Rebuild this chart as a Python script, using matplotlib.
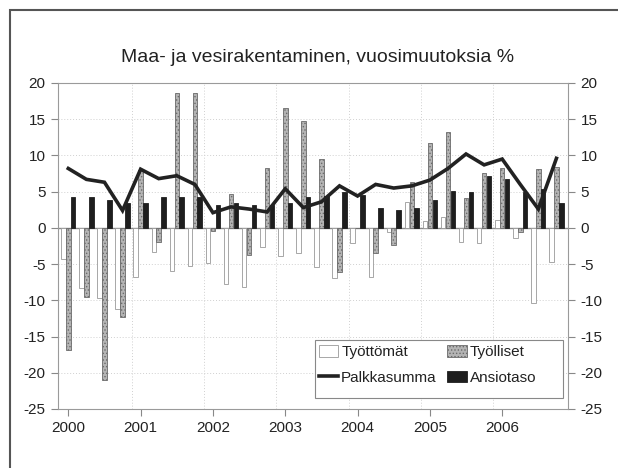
import matplotlib
matplotlib.use('Agg')
import matplotlib.pyplot as plt
from matplotlib.patches import Rectangle
from matplotlib.lines import Line2D
import numpy as np

plt.rcParams['font.family'] = ['Liberation Sans', 'DejaVu Sans']
plt.rcParams['axes.unicode_minus'] = False
plt.rcParams['hatch.linewidth'] = 0.6

# quarterly data 2000Q1 .. 2006Q4
years = [2000, 2001, 2002, 2003, 2004, 2005, 2006]
tyottomat = [-4.3, -8.3, -9.7, -11.2, -6.8, -3.3, -5.9, -5.2, -4.9, -7.8, -8.2, -2.7,
             -3.9, -3.5, -5.4, -6.9, -2.1, -6.8, -0.6, 3.6, 1.0, 1.5, -1.9, -2.1,
             1.1, -1.4, -10.4, -4.7]
tyolliset = [-16.8, -9.5, -21.0, -12.3, 8.0, -2.0, 18.6, 18.6, -0.4, 4.7, -3.7, 8.3,
             16.5, 14.7, 9.5, -6.1, 0.0, -3.4, -2.4, 6.3, 11.7, 13.2, 4.1, 7.6,
             8.3, -0.5, 8.1, 8.4]
ansiotaso = [4.25, 4.25, 3.8, 3.4, 3.5, 4.3, 4.2, 4.2, 3.2, 3.4, 3.2, 3.2,
             3.5, 4.3, 4.4, 4.9, 4.6, 2.8, 2.5, 2.8, 3.8, 5.1, 4.9, 7.1,
             6.7, 5.0, 5.3, 3.5]
palkkasumma = [8.2, 6.7, 6.3, 2.4, 8.1, 6.8, 7.2, 6.0, 2.1, 2.9, 2.6, 2.2,
               5.4, 2.8, 3.6, 5.8, 4.4, 6.0, 5.5, 5.8, 6.6, 8.2, 10.2, 8.7,
               9.5, 6.0, 2.6, 9.6]

W, H = 618, 468
fig = plt.figure(figsize=(W/100, H/100), dpi=100)
fig.patch.set_facecolor('white')
ax = fig.add_axes([58/W, 1-409/H, 510/W, 326/H])

x = np.arange(len(tyottomat))
w = 0.25
ax.bar(x-0.27, tyottomat, w, color='white', edgecolor='#999999', linewidth=0.6, zorder=3)
ax.bar(x, tyolliset, w, color='#b4b4b4', edgecolor='#6a6a6a', hatch='.....', linewidth=0.6, zorder=3)
ax.bar(x+0.27, ansiotaso, w, color='#1e1e1e', edgecolor='#1e1e1e', linewidth=0.6, zorder=3)
ax.plot(x, palkkasumma, color='#222222', lw=2.6, zorder=4, solid_joinstyle='miter')

ax.axhline(0, color='#8a8a8a', lw=1, zorder=2)
ax.set_ylim(-25, 20)
ax.set_xlim(-0.57, 27.64)
ax.set_yticks(np.arange(-25, 21, 5))
ax.set_xticks(np.arange(0, 28, 4))
ax.set_xticklabels([str(y) for y in years])
ax.tick_params(axis='both', direction='out', length=5, color='#888888', labelsize=11,
               labelcolor='#222222', pad=4)
ax.tick_params(axis='y', right=True, labelright=True)

for yv in np.arange(-20, 21, 5):
    if yv != 0:
        ax.axhline(yv, color='#d0d0d0', lw=0.7, ls=(0, (1, 2)), zorder=1)
for xv in np.arange(3.5, 27, 4):
    ax.axvline(xv, color='#d0d0d0', lw=0.7, ls=(0, (1, 2)), zorder=1)
for s in ax.spines.values():
    s.set_color('#9a9a9a')
    s.set_linewidth(0.8)

# legend box (wider than its contents, as in the original)
ax.add_patch(Rectangle((315/W, 1-398/H), 248/W, 58/H, transform=fig.transFigure,
                       facecolor='white', edgecolor='#888888', lw=0.8, zorder=5))
handles = [Rectangle((0, 0), 1, 1, facecolor='white', edgecolor='#999999', lw=0.6),
           Line2D([], [], color='#222222', lw=2.6),
           Rectangle((0, 0), 1, 1, facecolor='#b4b4b4', edgecolor='#6a6a6a', hatch='.....', lw=0.6),
           Rectangle((0, 0), 1, 1, facecolor='#1e1e1e', edgecolor='#1e1e1e', lw=0.6)]
labels = ['Työttömät', 'Palkkasumma', 'Työlliset', 'Ansiotaso']
leg = ax.legend(handles, labels, ncol=2, loc='upper left',
                bbox_to_anchor=(319/W, 1-345/H), bbox_transform=fig.transFigure,
                fontsize=11, frameon=False, handlelength=1.25, handleheight=0.8,
                handletextpad=0.2, columnspacing=0.7, labelspacing=0.75, borderpad=0,
                borderaxespad=0)
leg.set_zorder(6)
for t in leg.get_texts():
    t.set_color('#222222')

fig.text(318/W, 1-58/H, 'Maa- ja vesirakentaminen, vuosimuutoksia %', ha='center', va='center',
         fontsize=14, color='#222222')

# outer frame of the original chart area
fig.patches.append(Rectangle((10/W, -0.1), 1.2, 1.1-10/H, transform=fig.transFigure,
                             fill=False, edgecolor='#555555', lw=1.5, zorder=0))

fig.savefig('out.png', dpi=100)
